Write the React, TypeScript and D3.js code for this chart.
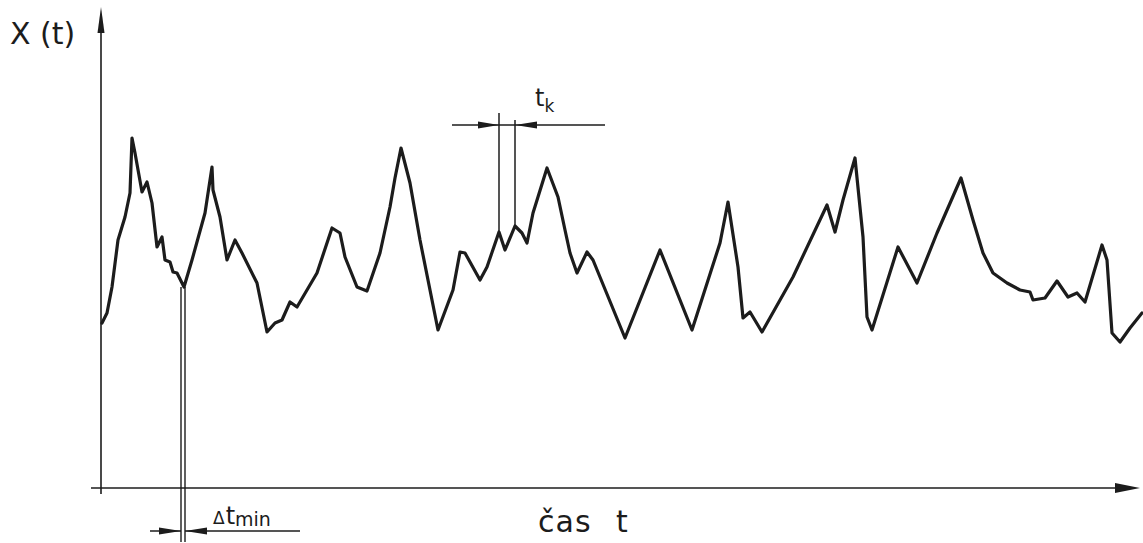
import React from "react";
import * as d3 from "d3";

// time (arbitrary units) and signal value X(t) (arbitrary units)
const timeValues = [
  1, 6, 11, 17, 24, 29, 31, 34, 41, 46, 51, 56, 61, 64, 69, 72, 76, 83, 91, 104,
  111, 112, 119, 126, 134, 141, 156, 166, 174, 181, 189, 196, 216, 231, 239, 244,
  256, 266, 279, 289, 294, 300, 309, 319, 337, 352, 359, 364, 379, 386, 398, 404,
  414, 421, 426, 432, 446, 457, 464, 469, 476, 486, 492, 524, 559, 591, 619, 627,
  637, 642, 649, 661, 692, 726, 734, 742, 754, 762, 766, 771, 797, 816, 836, 860,
  872, 882, 892, 906, 919, 929, 932, 944, 956, 967, 976, 984, 1001, 1006, 1011,
  1019, 1029, 1041,
];
const signalValues = [
  165, 175, 201, 248, 271, 295, 350, 335, 296, 306, 285, 241, 251, 228, 226, 216,
  215, 201, 228, 275, 321, 298, 271, 228, 248, 235, 205, 156, 165, 168, 186, 181,
  215, 260, 255, 231, 201, 197, 235, 281, 310, 340, 305, 248, 158, 198, 236, 235,
  208, 221, 256, 238, 262, 255, 245, 275, 320, 291, 258, 235, 215, 236, 228, 150,
  238, 158, 245, 286, 221, 170, 176, 156, 211, 283, 256, 288, 330, 251, 171, 158,
  241, 205, 255, 310, 268, 235, 215, 205, 198, 196, 188, 190, 207, 191, 195, 186,
  243, 228, 155, 146, 160, 175,
];

// annotation marks (time units)
const tkMarks = [398, 414];
const tkBottoms = [256, 262];
const dtMarks = [80, 84];
const dtBottom = 201;

const axisLabelY = "X (t)";
const axisLabelX = "čas t";
const tkLabel = "t";
const tkSub = "k";
const dtLabel = "Δt";
const dtSub = "min";

export default function App() {
  const W = 1143;
  const H = 543;
  const x = d3.scaleLinear().domain([0, 1040]).range([101, 1141]);
  const y = d3.scaleLinear().domain([0, 480]).range([488, 8]);
  const line = d3
    .line<number>()
    .x((_, i) => x(timeValues[i]))
    .y((d) => y(d))
    .curve(d3.curveLinear);

  const ink = "#1c1c1c";
  const font = "'DejaVu Sans', 'Liberation Sans', sans-serif";
  const x0 = x(0);
  const yAxis = y(0);

  const tkY = 125;
  const dtY = 531;

  return (
    <svg
      width={W}
      height={H}
      style={{ position: "absolute", left: 0, top: 0, background: "#fff" }}
    >
      {/* axes */}
      <line x1={x0} y1={24} x2={x0} y2={494} stroke={ink} strokeWidth={1.6} />
      <path d={`M${x0},7 L${x0 + 3.5},33 L${x0 - 3.5},33 Z`} fill={ink} />
      <line x1={91} y1={yAxis} x2={1122} y2={yAxis} stroke={ink} strokeWidth={1.6} />
      <path d={`M1140,${yAxis} L1115,${yAxis - 5} L1115,${yAxis + 5} Z`} fill={ink} />

      {/* signal */}
      <path
        d={line(signalValues) || ""}
        fill="none"
        stroke={ink}
        strokeWidth={3.2}
        strokeLinejoin="round"
        strokeLinecap="round"
      />

      {/* t_k annotation */}
      {tkMarks.map((t, i) => (
        <line
          key={"tk" + i}
          x1={x(t)}
          y1={i === 0 ? 113 : 120}
          x2={x(t)}
          y2={y(tkBottoms[i])}
          stroke={ink}
          strokeWidth={1.5}
        />
      ))}
      <line x1={452} y1={tkY} x2={605} y2={tkY} stroke={ink} strokeWidth={1.5} />
      <path
        d={`M${x(tkMarks[0])},${tkY} L${x(tkMarks[0]) - 21},${tkY - 3.5} L${x(tkMarks[0]) - 21},${tkY + 3.5} Z`}
        fill={ink}
      />
      <path
        d={`M${x(tkMarks[1])},${tkY} L${x(tkMarks[1]) + 22},${tkY - 3.5} L${x(tkMarks[1]) + 22},${tkY + 3.5} Z`}
        fill={ink}
      />
      <text x={535} y={106} fontFamily={font} fontSize={24} fill={ink}>
        {tkLabel}
        <tspan fontSize={17} dy={6}>
          {tkSub}
        </tspan>
      </text>

      {/* Δt_min annotation */}
      {dtMarks.map((t, i) => (
        <line
          key={"dt" + i}
          x1={x(t)}
          y1={y(dtBottom)}
          x2={x(t)}
          y2={542}
          stroke={ink}
          strokeWidth={1.4}
        />
      ))}
      <line x1={150} y1={dtY} x2={x(dtMarks[0])} y2={dtY} stroke={ink} strokeWidth={1.5} />
      <line x1={x(dtMarks[1])} y1={dtY} x2={300} y2={dtY} stroke={ink} strokeWidth={1.5} />
      <path
        d={`M${x(dtMarks[0])},${dtY} L${x(dtMarks[0]) - 22},${dtY - 3.5} L${x(dtMarks[0]) - 22},${dtY + 3.5} Z`}
        fill={ink}
      />
      <path
        d={`M${x(dtMarks[1])},${dtY} L${x(dtMarks[1]) + 22},${dtY - 3.5} L${x(dtMarks[1]) + 22},${dtY + 3.5} Z`}
        fill={ink}
      />
      <text x={213} y={524} fontFamily={font} fontSize={17} fill={ink}>
        Δ
        <tspan fontSize={24} dx={1}>t</tspan>
        <tspan fontSize={19} dy={2}>
          {dtSub}
        </tspan>
      </text>

      {/* axis labels */}
      <text x={10} y={44} fontFamily={font} fontSize={30} fill={ink}>
        {axisLabelY}
      </text>
      <text x={538} y={532} fontFamily={font} fontSize={30} fill={ink} letterSpacing={1} wordSpacing={14}>
        {axisLabelX}
      </text>
    </svg>
  );
}
